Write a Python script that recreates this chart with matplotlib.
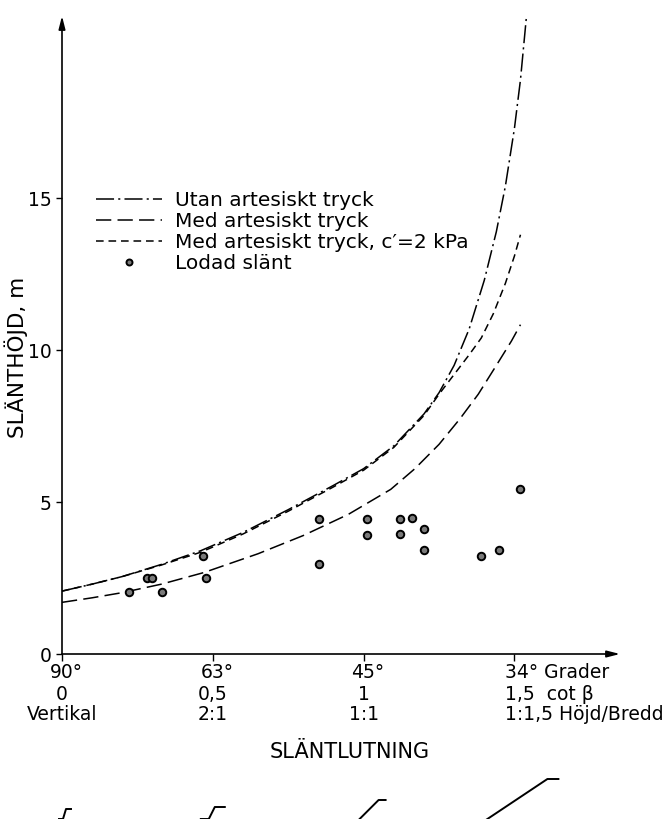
import matplotlib
matplotlib.use("Agg")
import matplotlib.pyplot as plt

# ---------------- data ----------------
utan_x = [0.0, 0.1, 0.2, 0.33, 0.46, 0.6, 0.75, 0.9, 1.0, 1.1, 1.2, 1.25, 1.3, 1.35, 1.4, 1.44, 1.47, 1.5, 1.52, 1.54]
utan_y = [2.07, 2.3, 2.55, 2.95, 3.4, 4.0, 4.75, 5.55, 6.1, 6.85, 7.9, 8.6, 9.5, 10.7, 12.3, 13.9, 15.4, 17.3, 18.9, 21.0]

c2_x = [0.0, 0.1, 0.2, 0.33, 0.46, 0.6, 0.75, 0.9, 1.0, 1.1, 1.2, 1.25, 1.3, 1.35, 1.39, 1.43, 1.47, 1.5, 1.52]
c2_y = [2.07, 2.3, 2.55, 2.93, 3.35, 3.95, 4.7, 5.5, 6.05, 6.8, 7.85, 8.55, 9.2, 9.85, 10.4, 11.2, 12.2, 13.1, 13.8]

med_x = [0.0, 0.1, 0.2, 0.33, 0.47, 0.65, 0.8, 0.95, 1.09, 1.17, 1.25, 1.32, 1.38, 1.44, 1.49, 1.52]
med_y = [1.70, 1.85, 2.02, 2.3, 2.68, 3.3, 3.9, 4.6, 5.42, 6.1, 6.9, 7.75, 8.55, 9.5, 10.3, 10.84]

lod_x = [0.222, 0.281, 0.297, 0.331, 0.468, 0.479, 0.852, 0.852, 1.011, 1.011,
         1.120, 1.120, 1.159, 1.199, 1.199, 1.389, 1.448, 1.517]
lod_y = [2.03, 2.49, 2.49, 2.03, 3.23, 2.49, 4.44, 2.97, 4.44, 3.92,
         4.44, 3.95, 4.47, 4.11, 3.42, 3.23, 3.42, 5.44]

series_labels = ["Utan artesiskt tryck", "Med artesiskt tryck",
                 "Med artesiskt tryck, c\u2032=2 kPa", "Lodad sl\u00e4nt"]

ytick_vals = [0, 5, 10, 15]
ytick_labels = ["0", "5", "10", "15"]

xtick_vals = [0.0, 0.5, 1.0, 1.5]
xtick_deg = ["90\u00b0", "63\u00b0", "45\u00b0", "34\u00b0"]
xtick_cot = ["0", "0,5", "1", "1,5"]
xtick_ratio = ["Vertikal", "2:1", "1:1", "1:1,5"]
row_units = ["Grader", " cot \u03b2", "H\u00f6jd/Bredd"]

# ---------------- figure ----------------
plt.rcParams["font.family"] = ["DejaVu Sans"]
plt.rcParams["lines.scale_dashes"] = False

W, H = 670, 819
fig = plt.figure(figsize=(W / 100, H / 100), dpi=100)
fig.patch.set_facecolor("white")

ax = fig.add_axes([62 / W, (H - 654) / H, 558 / W, 638 / H])
ax.set_xlim(0, 1.85)
ax.set_ylim(0, 21)
for s in ax.spines.values():
    s.set_visible(False)
ax.patch.set_alpha(0)

lw = 1.1
ax.plot(utan_x, utan_y, color="k", lw=lw, dashes=[13, 3, 1.5, 3], label=series_labels[0])
ax.plot(med_x, med_y, color="k", lw=lw, dashes=[11, 4.5], label=series_labels[1])
ax.plot(c2_x, c2_y, color="k", lw=lw, dashes=[5.5, 3.5], label=series_labels[2])
ax.plot(lod_x, lod_y, ls="none", marker="o", ms=5.4, mfc="#7a7a7a", mec="k", mew=1.4,
        label=series_labels[3])

# axes with arrows
arrow = dict(arrowstyle="-|>,head_length=0.55,head_width=0.14", lw=1.2, color="k",
             mutation_scale=14, shrinkA=0, shrinkB=0)
ax.annotate("", xy=(0, 21), xytext=(0, 0), xycoords="data", arrowprops=arrow, annotation_clip=False)
ax.annotate("", xy=(1.85, 0), xytext=(0, 0), xycoords="data", arrowprops=arrow, annotation_clip=False)

fs = 13.5
# ticks
ax.set_yticks(ytick_vals)
ax.set_yticklabels(ytick_labels, fontsize=fs)
ax.tick_params(axis="y", direction="out", length=4.5, width=1, pad=3)
ax.set_xticks(xtick_vals)
ax.set_xticklabels([])
ax.tick_params(axis="x", direction="out", length=5, width=1)

row_off = [19, 40, 60]
for i, xv in enumerate(xtick_vals):
    rows = [xtick_deg[i], xtick_cot[i], xtick_ratio[i]]
    last = i == len(xtick_vals) - 1
    for r, txt in enumerate(rows):
        if last:
            ax.annotate(txt + " " + row_units[r], xy=(xv, 0), xycoords=("data", "axes fraction"),
                        xytext=(-9, -row_off[r]), textcoords="offset pixels",
                        ha="left", va="center", fontsize=fs, annotation_clip=False)
        else:
            dx = 4 if r == 0 else 0
            ax.annotate(txt, xy=(xv, 0), xycoords=("data", "axes fraction"),
                        xytext=(dx, -row_off[r]), textcoords="offset pixels",
                        ha="center", va="center", fontsize=fs, annotation_clip=False)

fig.text(16 / W, 1 - 357 / H, "SL\u00c4NTH\u00d6JD, m", rotation=90, ha="center", va="center", fontsize=15.5)
fig.text(350 / W, 1 - 752 / H, "SL\u00c4NTLUTNING", ha="center", va="center", fontsize=15)

# legend
leg = ax.legend(loc="upper left", bbox_to_anchor=(96 / W, 1 - 191 / H), bbox_transform=fig.transFigure,
                frameon=False, fontsize=14.5, handlelength=3.3, handletextpad=0.6,
                labelspacing=0.1, borderpad=0, borderaxespad=0, markerscale=0.8)

# small slope sketches below the chart (decorative)
sk = fig.add_axes([0, 0, 1, 1], zorder=-1)
sk.set_xlim(0, W)
sk.set_ylim(H, 0)
sk.axis("off")
x_px = lambda c: 62 + c * 301.6
sketch_off = [4, 2, 15, 33]
sketch_top = [809, 807, 800, 779]
sketch_drop = [10, 12, 40, 60]
top_len = [5, 10, 7, 11]
base_len = [4, 8, 8, 8]
for i, c in enumerate(xtick_vals):
    cx = x_px(c) + sketch_off[i]
    ty = sketch_top[i]
    by = ty + sketch_drop[i]
    run = c * sketch_drop[i] if c > 0 else 3
    bx = cx - run
    sk.plot([cx + top_len[i], cx, bx, bx - base_len[i]], [ty, ty, by, by], color="k", lw=1.4)

fig.savefig("out.png", dpi=100, facecolor="white")
